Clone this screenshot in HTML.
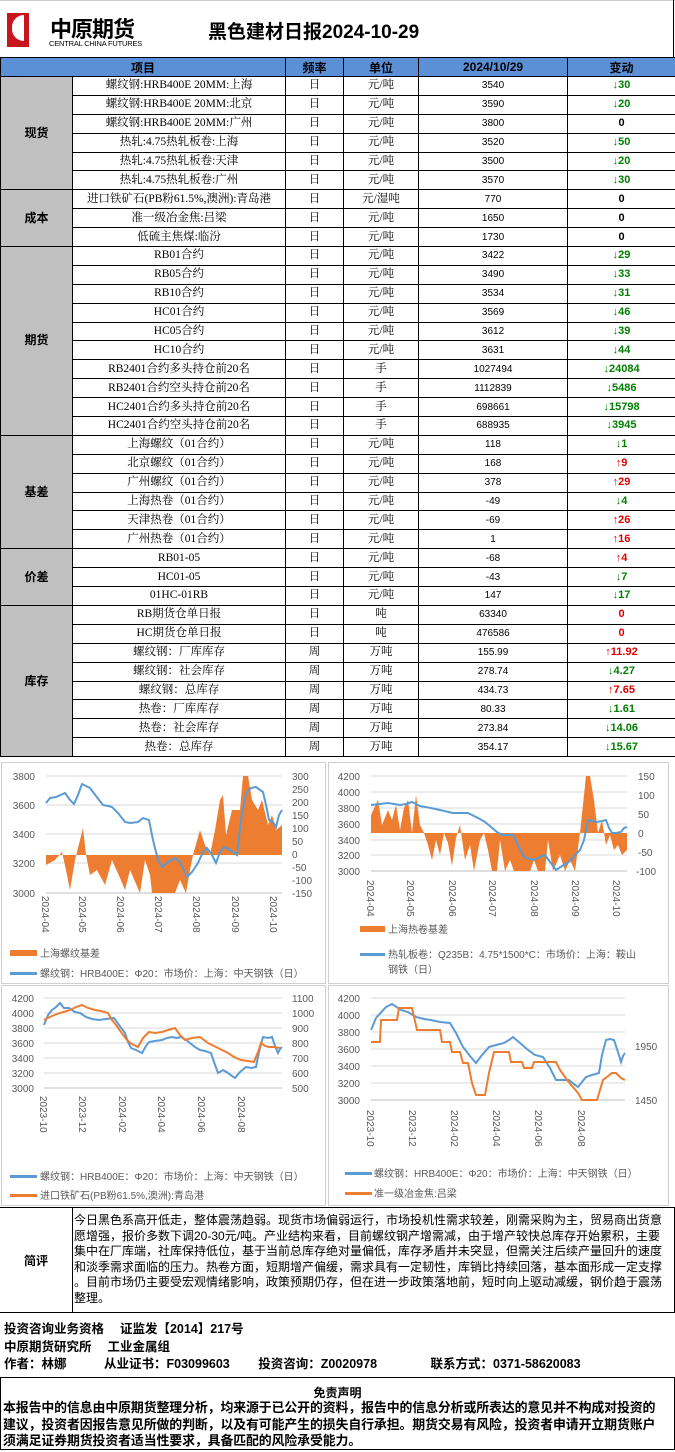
<!DOCTYPE html>
<html><head><meta charset="utf-8">
<style>
*{margin:0;padding:0;box-sizing:border-box}
body{width:675px;height:1452px;background:#fff;position:relative;font-family:"Liberation Serif","Noto Serif CJK SC","Noto Sans CJK SC",serif;color:#000;overflow:hidden}
.abs{position:absolute}
table{position:absolute;left:0;top:57px;width:675px;border-collapse:collapse;table-layout:fixed}
td{border:1px solid #000;font-size:11.5px;text-align:center;height:18.9px;padding:0;white-space:nowrap;overflow:hidden;line-height:17px}
th{background:#5b8fd6;border:1px solid #000;font-size:12px;height:19px;font-family:"Liberation Sans","Noto Sans CJK SC",sans-serif}
td.cat{background:#c0c0c0;font-weight:bold;font-size:12px;font-family:"Liberation Sans","Noto Sans CJK SC",sans-serif}
td.v{font-family:"Liberation Sans",sans-serif;font-size:10px}
td.c{font-weight:bold;font-family:"Liberation Sans",sans-serif;font-size:11px}
.g{color:#008000}.r{color:#e00000}
svg text{font-family:"Liberation Sans","Noto Sans CJK SC",sans-serif;font-size:10px;fill:#595959}
.sans{font-family:"Liberation Sans","Noto Sans CJK SC",sans-serif}
.ln{white-space:nowrap}
</style></head><body>
<div class="abs" style="left:0;top:0;width:675px;height:1px;background:#ccc"></div>
<div class="abs" style="left:7px;top:13px;width:22px;height:34px;background:#c8161d"></div>
<div class="abs" style="left:12px;top:15px;width:12px;height:26px;background:#fff;border-radius:12px 0 0 12px"></div>
<div class="abs sans" style="left:50px;top:12px;font-size:22px;font-weight:bold;letter-spacing:-1px">中原期货</div>
<div class="abs sans" style="left:49px;top:39px;font-size:7.5px;letter-spacing:-0.2px">CENTRAL CHINA FUTURES</div>
<div class="abs sans" style="left:208px;top:17px;font-size:19px;font-weight:bold">黑色建材日报2024-10-29</div>
<div class="abs" style="left:673px;top:0;width:1px;height:57px;background:#000"></div>

<table>
<colgroup><col style="width:72px"><col style="width:213px"><col style="width:58px"><col style="width:75px"><col style="width:149px"><col style="width:108px"></colgroup>
<tr><th colspan="2">项目</th><th>频率</th><th>单位</th><th>2024/10/29</th><th>变动</th></tr>
<tr><td class="cat" rowspan="6">现货</td><td>螺纹钢:HRB400E 20MM:上海</td><td>日</td><td>元/吨</td><td class="v">3540</td><td class="c g">↓30</td></tr>
<tr><td>螺纹钢:HRB400E 20MM:北京</td><td>日</td><td>元/吨</td><td class="v">3590</td><td class="c g">↓20</td></tr>
<tr><td>螺纹钢:HRB400E 20MM:广州</td><td>日</td><td>元/吨</td><td class="v">3800</td><td class="c">0</td></tr>
<tr><td>热轧:4.75热轧板卷:上海</td><td>日</td><td>元/吨</td><td class="v">3520</td><td class="c g">↓50</td></tr>
<tr><td>热轧:4.75热轧板卷:天津</td><td>日</td><td>元/吨</td><td class="v">3500</td><td class="c g">↓20</td></tr>
<tr><td>热轧:4.75热轧板卷:广州</td><td>日</td><td>元/吨</td><td class="v">3570</td><td class="c g">↓30</td></tr>
<tr><td class="cat" rowspan="3">成本</td><td>进口铁矿石(PB粉61.5%,澳洲):青岛港</td><td>日</td><td>元/湿吨</td><td class="v">770</td><td class="c">0</td></tr>
<tr><td>准一级冶金焦:吕梁</td><td>日</td><td>元/吨</td><td class="v">1650</td><td class="c">0</td></tr>
<tr><td>低硫主焦煤:临汾</td><td>日</td><td>元/吨</td><td class="v">1730</td><td class="c">0</td></tr>
<tr><td class="cat" rowspan="10">期货</td><td>RB01合约</td><td>日</td><td>元/吨</td><td class="v">3422</td><td class="c g">↓29</td></tr>
<tr><td>RB05合约</td><td>日</td><td>元/吨</td><td class="v">3490</td><td class="c g">↓33</td></tr>
<tr><td>RB10合约</td><td>日</td><td>元/吨</td><td class="v">3534</td><td class="c g">↓31</td></tr>
<tr><td>HC01合约</td><td>日</td><td>元/吨</td><td class="v">3569</td><td class="c g">↓46</td></tr>
<tr><td>HC05合约</td><td>日</td><td>元/吨</td><td class="v">3612</td><td class="c g">↓39</td></tr>
<tr><td>HC10合约</td><td>日</td><td>元/吨</td><td class="v">3631</td><td class="c g">↓44</td></tr>
<tr><td>RB2401合约多头持仓前20名</td><td>日</td><td>手</td><td class="v">1027494</td><td class="c g">↓24084</td></tr>
<tr><td>RB2401合约空头持仓前20名</td><td>日</td><td>手</td><td class="v">1112839</td><td class="c g">↓5486</td></tr>
<tr><td>HC2401合约多头持仓前20名</td><td>日</td><td>手</td><td class="v">698661</td><td class="c g">↓15798</td></tr>
<tr><td>HC2401合约空头持仓前20名</td><td>日</td><td>手</td><td class="v">688935</td><td class="c g">↓3945</td></tr>
<tr><td class="cat" rowspan="6">基差</td><td>上海螺纹（01合约）</td><td>日</td><td>元/吨</td><td class="v">118</td><td class="c g">↓1</td></tr>
<tr><td>北京螺纹（01合约）</td><td>日</td><td>元/吨</td><td class="v">168</td><td class="c r">↑9</td></tr>
<tr><td>广州螺纹（01合约）</td><td>日</td><td>元/吨</td><td class="v">378</td><td class="c r">↑29</td></tr>
<tr><td>上海热卷（01合约）</td><td>日</td><td>元/吨</td><td class="v">-49</td><td class="c g">↓4</td></tr>
<tr><td>天津热卷（01合约）</td><td>日</td><td>元/吨</td><td class="v">-69</td><td class="c r">↑26</td></tr>
<tr><td>广州热卷（01合约）</td><td>日</td><td>元/吨</td><td class="v">1</td><td class="c r">↑16</td></tr>
<tr><td class="cat" rowspan="3">价差</td><td>RB01-05</td><td>日</td><td>元/吨</td><td class="v">-68</td><td class="c r">↑4</td></tr>
<tr><td>HC01-05</td><td>日</td><td>元/吨</td><td class="v">-43</td><td class="c g">↓7</td></tr>
<tr><td>01HC-01RB</td><td>日</td><td>元/吨</td><td class="v">147</td><td class="c g">↓17</td></tr>
<tr><td class="cat" rowspan="8">库存</td><td>RB期货仓单日报</td><td>日</td><td>吨</td><td class="v">63340</td><td class="c r">0</td></tr>
<tr><td>HC期货仓单日报</td><td>日</td><td>吨</td><td class="v">476586</td><td class="c r">0</td></tr>
<tr><td>螺纹钢：厂库库存</td><td>周</td><td>万吨</td><td class="v">155.99</td><td class="c r">↑11.92</td></tr>
<tr><td>螺纹钢：社会库存</td><td>周</td><td>万吨</td><td class="v">278.74</td><td class="c g">↓4.27</td></tr>
<tr><td>螺纹钢：总库存</td><td>周</td><td>万吨</td><td class="v">434.73</td><td class="c r">↑7.65</td></tr>
<tr><td>热卷：厂库库存</td><td>周</td><td>万吨</td><td class="v">80.33</td><td class="c g">↓1.61</td></tr>
<tr><td>热卷：社会库存</td><td>周</td><td>万吨</td><td class="v">273.84</td><td class="c g">↓14.06</td></tr>
<tr><td>热卷：总库存</td><td>周</td><td>万吨</td><td class="v">354.17</td><td class="c g">↓15.67</td></tr>
</table>

<svg class="abs" style="left:0;top:0" width="675" height="1452">
<g fill="none" stroke="#d0d0d0" stroke-width="1">
<rect x="1.5" y="762.5" width="324" height="221"/><rect x="328.5" y="762.5" width="340" height="221"/>
<rect x="1.5" y="985.5" width="324" height="220"/><rect x="328.5" y="985.5" width="340" height="220"/>
</g>
<g stroke="#d9d9d9" stroke-width="1">
<line x1="46" x2="282" y1="776" y2="776"/><line x1="46" x2="282" y1="805" y2="805"/><line x1="46" x2="282" y1="834" y2="834"/><line x1="46" x2="282" y1="863" y2="863"/>
<line x1="371" x2="627" y1="776" y2="776"/><line x1="371" x2="627" y1="792" y2="792"/><line x1="371" x2="627" y1="808" y2="808"/><line x1="371" x2="627" y1="824" y2="824"/><line x1="371" x2="627" y1="840" y2="840"/><line x1="371" x2="627" y1="855" y2="855"/>
<line x1="44" x2="282" y1="998" y2="998"/><line x1="44" x2="282" y1="1013" y2="1013"/><line x1="44" x2="282" y1="1028" y2="1028"/><line x1="44" x2="282" y1="1043" y2="1043"/><line x1="44" x2="282" y1="1058" y2="1058"/><line x1="44" x2="282" y1="1073" y2="1073"/>
<line x1="371" x2="625" y1="998" y2="998"/><line x1="371" x2="625" y1="1015" y2="1015"/><line x1="371" x2="625" y1="1032" y2="1032"/><line x1="371" x2="625" y1="1049" y2="1049"/><line x1="371" x2="625" y1="1066" y2="1066"/><line x1="371" x2="625" y1="1083" y2="1083"/>
</g>
<g stroke="#bfbfbf"><line x1="46" x2="282" y1="893" y2="893"/><line x1="371" x2="627" y1="871" y2="871"/><line x1="44" x2="282" y1="1088" y2="1088"/><line x1="371" x2="625" y1="1100" y2="1100"/></g>
<polygon fill="#ed7d31" points="46,855 46,865 55,860 62,852 66,870 70,890 75,860 80,840 83,828 86,855 90,875 97,870 105,885 112,860 120,878 125,890 130,870 140,893 145,860 150,875 152,893 160,893 175,893 180,880 186,893 190,870 193,855 200,830 205,845 210,855 215,830 220,800 223,795 226,835 232,810 240,810 243,776 248,776 252,800 258,810 262,800 268,825 272,815 276,830 282,825 282,855"/>
<polyline fill="none" stroke="#5b9bd5" stroke-width="2" points="46,803 50,798 56,797 65,793 70,800 74,804 78,795 82,784 86,786 90,788 96,796 103,805 108,806 112,807 118,813 125,822 130,823 138,822 143,818 149,820 153,840 158,860 162,867 168,862 175,858 180,862 187,877 192,872 198,863 203,852 207,848 212,855 216,863 220,852 224,847 230,850 237,855 241,820 246,793 251,788 256,787 260,790 263,792 266,805 269,820 273,822 276,827 279,815 282,810"/>
<g text-anchor="end"><text x="35" y="780">3800</text><text x="35" y="809">3600</text><text x="35" y="838">3400</text><text x="35" y="867">3200</text><text x="35" y="897">3000</text></g>
<g><text x="292" y="780">300</text><text x="292" y="793">250</text><text x="292" y="806">200</text><text x="292" y="819">150</text><text x="292" y="832">100</text><text x="292" y="845">50</text><text x="292" y="858">0</text><text x="292" y="871">-50</text><text x="292" y="884">-100</text><text x="292" y="897">-150</text></g>
<g>
<text transform="translate(42,896) rotate(90)">2024-04</text><text transform="translate(79,896) rotate(90)">2024-05</text><text transform="translate(117,896) rotate(90)">2024-06</text><text transform="translate(155,896) rotate(90)">2024-07</text><text transform="translate(193,896) rotate(90)">2024-08</text><text transform="translate(232,896) rotate(90)">2024-09</text><text transform="translate(270,896) rotate(90)">2024-10</text>
</g>
<rect x="10" y="950" width="27" height="6" fill="#ed7d31"/><text x="40" y="957">上海螺纹基差</text>
<rect x="10" y="972" width="27" height="3" fill="#5b9bd5"/><text x="40" y="977">螺纹钢：HRB400E：Φ20：市场价：上海：中天钢铁（日）</text>
<polygon fill="#ed7d31" points="371,833 371,815 378,800 382,825 388,810 392,820 396,805 400,830 404,808 408,800 412,833 416,795 420,825 424,833 428,845 432,860 436,840 440,855 444,833 448,843 452,866 456,838 460,825 465,860 470,845 474,871 480,840 484,833 488,850 492,871 497,871 500,840 505,871 510,860 514,871 530,871 534,860 538,871 545,871 548,840 553,871 560,855 565,871 570,860 575,871 580,833 586,776 590,776 594,800 598,833 602,820 606,845 610,835 614,850 618,845 622,855 627,850 627,833"/>
<polyline fill="none" stroke="#5b9bd5" stroke-width="2" points="371,805 380,804 388,803 400,805 406,804 412,802 420,806 431,808 440,810 453,813 460,813 468,813 478,818 485,822 491,827 497,832 502,835 508,835 513,835 518,845 524,857 530,859 534,860 540,857 545,855 550,862 556,870 562,866 569,862 575,855 580,850 584,840 588,820 593,821 597,822 602,821 606,820 609,828 612,833 616,833 621,832 624,828 627,827"/>
<g text-anchor="end"><text x="360" y="780">4200</text><text x="360" y="796">4000</text><text x="360" y="812">3800</text><text x="360" y="828">3600</text><text x="360" y="844">3400</text><text x="360" y="859">3200</text><text x="360" y="875">3000</text></g>
<g><text x="638" y="780">150</text><text x="638" y="799">100</text><text x="638" y="818">50</text><text x="638" y="837">0</text><text x="638" y="856">-50</text><text x="636" y="875">-100</text></g>
<g>
<text transform="translate(367,880) rotate(90)">2024-04</text><text transform="translate(407,880) rotate(90)">2024-05</text><text transform="translate(449,880) rotate(90)">2024-06</text><text transform="translate(489,880) rotate(90)">2024-07</text><text transform="translate(531,880) rotate(90)">2024-08</text><text transform="translate(572,880) rotate(90)">2024-09</text><text transform="translate(613,880) rotate(90)">2024-10</text>
</g>
<rect x="360" y="926" width="25" height="6" fill="#ed7d31"/><text x="388" y="933">上海热卷基差</text>
<rect x="360" y="953" width="25" height="3" fill="#5b9bd5"/><text x="388" y="958">热轧板卷：Q235B：4.75*1500*C：市场价：上海：鞍山</text><text x="388" y="973">钢铁（日）</text>
<polyline fill="none" stroke="#5b9bd5" stroke-width="2" points="44,1025 48,1015 52,1010 56,1007 60,1003 64,1008 69,1008 75,1012 80,1013 86,1017 92,1019 99,1020 106,1019 114,1018 119,1025 125,1033 128,1042 131,1048 136,1050 142,1053 146,1046 149,1042 155,1041 162,1040 167,1038 172,1037 177,1038 181,1037 186,1040 190,1043 195,1047 200,1050 205,1051 211,1053 214,1062 218,1073 223,1070 228,1073 232,1076 235,1078 240,1072 246,1067 251,1068 256,1067 259,1052 263,1037 268,1038 272,1037 275,1046 278,1053 280,1049 282,1047"/>
<polyline fill="none" stroke="#ed7d31" stroke-width="2" points="44,1020 52,1016 60,1013 70,1010 76,1007 82,1005 88,1008 95,1010 101,1011 108,1013 112,1020 116,1025 121,1032 127,1040 132,1044 138,1047 143,1038 149,1032 155,1033 162,1032 168,1030 175,1028 180,1035 185,1040 192,1038 200,1037 208,1043 216,1047 222,1050 228,1053 234,1057 241,1060 248,1061 254,1062 258,1052 261,1043 265,1046 269,1047 274,1047 280,1048"/>
<g text-anchor="end"><text x="34" y="1002">4200</text><text x="34" y="1017">4000</text><text x="34" y="1032">3800</text><text x="34" y="1047">3600</text><text x="34" y="1062">3400</text><text x="34" y="1077">3200</text><text x="34" y="1092">3000</text></g>
<g><text x="292" y="1002">1100</text><text x="292" y="1017">1000</text><text x="292" y="1032">900</text><text x="292" y="1047">800</text><text x="292" y="1062">700</text><text x="292" y="1077">600</text><text x="292" y="1092">500</text></g>
<g>
<text transform="translate(40,1096) rotate(90)">2023-10</text><text transform="translate(79,1096) rotate(90)">2023-12</text><text transform="translate(119,1096) rotate(90)">2024-02</text><text transform="translate(158,1096) rotate(90)">2024-04</text><text transform="translate(198,1096) rotate(90)">2024-06</text><text transform="translate(238,1096) rotate(90)">2024-08</text>
</g>
<rect x="10" y="1175" width="27" height="3" fill="#5b9bd5"/><text x="40" y="1180">螺纹钢：HRB400E：Φ20：市场价：上海：中天钢铁（日）</text>
<rect x="10" y="1194" width="27" height="3" fill="#ed7d31"/><text x="40" y="1199">进口铁矿石(PB粉61.5%,澳洲):青岛港</text>
<polyline fill="none" stroke="#5b9bd5" stroke-width="2" points="371,1030 376,1018 386,1007 392,1004 401,1010 408,1012 416,1017 424,1019 431,1020 440,1022 450,1023 456,1033 463,1047 470,1056 476,1063 482,1055 489,1047 496,1045 504,1043 509,1040 513,1037 520,1043 528,1050 535,1055 543,1057 550,1068 556,1080 562,1080 569,1080 574,1084 578,1087 582,1082 586,1077 592,1075 599,1073 602,1055 606,1040 610,1039 614,1040 618,1052 621,1062 623,1056 625,1053"/>
<polyline fill="none" stroke="#ed7d31" stroke-width="2" points="371,1042 380,1042 381,1020 397,1020 399,1008 412,1008 417,1030 440,1030 442,1042 450,1042 452,1052 460,1052 463,1063 468,1063 472,1083 476,1095 485,1095 489,1073 494,1052 509,1052 511,1062 522,1062 524,1068 532,1068 534,1062 556,1062 560,1070 567,1080 578,1093 582,1100 597,1100 603,1080 612,1073 616,1073 621,1078 625,1080"/>
<g text-anchor="end"><text x="360" y="1002">4200</text><text x="360" y="1019">4000</text><text x="360" y="1036">3800</text><text x="360" y="1053">3600</text><text x="360" y="1070">3400</text><text x="360" y="1087">3200</text><text x="360" y="1104">3000</text></g>
<g><text x="635" y="1050">1950</text><text x="635" y="1104">1450</text></g>
<g>
<text transform="translate(367,1110) rotate(90)">2023-10</text><text transform="translate(409,1110) rotate(90)">2023-12</text><text transform="translate(451,1110) rotate(90)">2024-02</text><text transform="translate(493,1110) rotate(90)">2024-04</text><text transform="translate(535,1110) rotate(90)">2024-06</text><text transform="translate(578,1110) rotate(90)">2024-08</text>
</g>
<rect x="345" y="1172" width="27" height="3" fill="#5b9bd5"/><text x="374" y="1177">螺纹钢：HRB400E：Φ20：市场价：上海：中天钢铁（日）</text>
<rect x="345" y="1192" width="27" height="3" fill="#ed7d31"/><text x="374" y="1197">准一级冶金焦:吕梁</text>
</svg>

<div class="abs" style="left:0;top:1207px;width:675px;height:106px;border-top:1px solid #000;border-bottom:1px solid #000;border-right:1px solid #000"></div>
<div class="abs" style="left:72px;top:1207px;width:1px;height:106px;background:#000"></div>
<div class="abs sans" style="left:0;top:1252px;width:72px;text-align:center;font-weight:bold;font-size:12px">简评</div>
<div class="abs sans ln" style="left:74px;top:1213px;font-size:12px;line-height:15.5px;letter-spacing:0">今日黑色系高开低走，整体震荡趋弱。现货市场偏弱运行，市场投机性需求较差，刚需采购为主，贸易商出货意<br>愿增强，报价多数下调20-30元/吨。产业结构来看，目前螺纹钢产增需减，由于增产较快总库存开始累积，主要<br>集中在厂库端，社库保持低位，基于当前总库存绝对量偏低，库存矛盾并未突显，但需关注后续产量回升的速度<br>和淡季需求面临的压力。热卷方面，短期增产偏缓，需求具有一定韧性，库销比持续回落，基本面形成一定支撑<br>。目前市场仍主要受宏观情绪影响，政策预期仍存，但在进一步政策落地前，短时向上驱动减缓，钢价趋于震荡<br>整理。</div>
<div class="abs sans ln" style="left:4px;top:1321px;font-size:12.5px;font-weight:bold;line-height:17.5px">投资咨询业务资格　 证监发【2014】217号<br>中原期货研究所　 工业金属组<br>作者：林娜　　　从业证书：F03099603　　 投资咨询：Z0020978　　　　 联系方式：0371-58620083</div>
<div class="abs" style="left:0;top:1377px;width:675px;height:73px;border:1px solid #000"></div>
<div class="abs sans" style="left:0;top:1384px;width:675px;text-align:center;font-size:12px;font-weight:bold">免责声明</div>
<div class="abs sans ln" style="left:3px;top:1400px;font-size:12.9px;font-weight:bold;line-height:16.5px;letter-spacing:-0.1px">本报告中的信息由中原期货整理分析，均来源于已公开的资料，报告中的信息分析或所表达的意见并不构成对投资的<br>建议，投资者因报告意见所做的判断，以及有可能产生的损失自行承担。期货交易有风险，投资者申请开立期货账户<br>须满足证券期货投资者适当性要求，具备匹配的风险承受能力。</div>
</body></html>
